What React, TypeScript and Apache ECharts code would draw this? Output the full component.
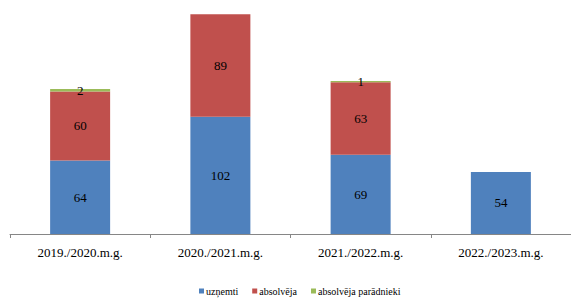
import React, { useEffect, useRef } from "react";
import * as echarts from "echarts";

const categories = ["2019./2020.m.g.", "2020./2021.m.g.", "2021./2022.m.g.", "2022./2023.m.g."];
const uznemti = [64, 102, 69, 54];
const absolveja = [60, 89, 63, null];
const paradnieki = [2, null, 1, null];
const seriesNames = ["uzņemti", "absolvēja", "absolvēja parādnieki"];
const colors = ["#4F81BD", "#C0504D", "#9BBB59"];

const FONT = "'Liberation Serif', 'Times New Roman', serif";

export default function App() {
  const ref = useRef<HTMLDivElement>(null);
  useEffect(() => {
    document.body.style.margin = "0";
    if (!ref.current) return;
    const chart = echarts.init(ref.current, undefined, { renderer: "svg" });
    const label = {
      show: true,
      position: "inside",
      color: "#000",
      fontFamily: FONT,
      fontSize: 13,
    };
    const datas = [uznemti, absolveja, paradnieki];
    chart.setOption({
      animation: false,
      textStyle: { fontFamily: FONT },
      grid: { left: 10, right: -3, top: 4, bottom: 64 },
      legend: {
        top: 286,
        left: 199,
        padding: 0,
        itemWidth: 5,
        itemHeight: 5,
        itemGap: 14,
        icon: "rect",
        textStyle: { fontFamily: FONT, fontSize: 10, color: "#000", padding: [0, 0, 0, -3] },
        data: seriesNames,
      },
      xAxis: {
        type: "category",
        data: categories,
        axisLine: { lineStyle: { color: "#868686" } },
        axisTick: { show: true, length: 4, lineStyle: { color: "#868686" } },
        axisLabel: { color: "#000", fontFamily: FONT, fontSize: 13, margin: 12 },
      },
      yAxis: { type: "value", min: 0, max: 200, show: false, splitLine: { show: false } },
      series: seriesNames.map((name, i) => ({
        name,
        type: "bar",
        stack: "total",
        barWidth: 60,
        data: datas[i],
        itemStyle: { color: colors[i] },
        label,
      })),
    });
    return () => chart.dispose();
  }, []);
  return <div ref={ref} style={{ width: 571, height: 298 }} />;
}
